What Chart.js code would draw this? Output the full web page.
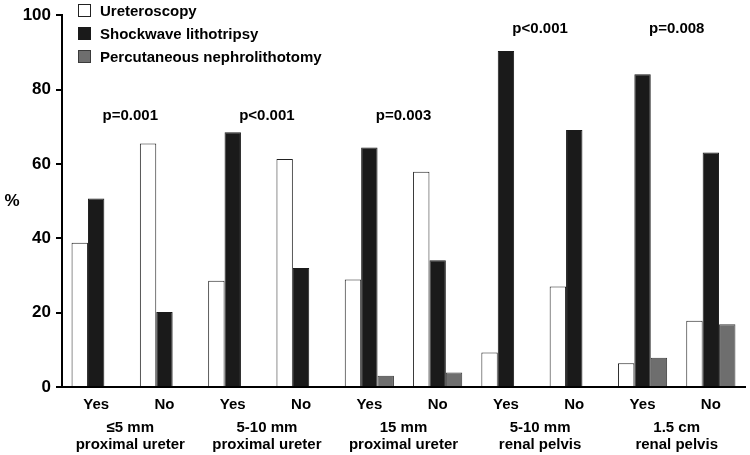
<!DOCTYPE html>
<html>
<head>
<meta charset="utf-8">
<script src="https://cdn.jsdelivr.net/npm/chart.js@4"></script>
<style>
html,body{margin:0;padding:0;background:#fff;}
#wrap{width:750px;height:455px;}
</style>
</head>
<body>
<div id="wrap"><canvas id="c" width="750" height="455"></canvas></div>
<script>
const categories = ["Yes","No","Yes","No","Yes","No","Yes","No","Yes","No"];
const groupLabels = [["\u22645 mm","proximal ureter"],["5-10 mm","proximal ureter"],["15 mm","proximal ureter"],["5-10 mm","renal pelvis"],["1.5 cm","renal pelvis"]];
const seriesNames = ["Ureteroscopy","Shockwave lithotripsy","Percutaneous nephrolithotomy"];
const ureteroscopy = [38.8,65.5,28.6,61.3,28.9,57.9,9.3,27.0,6.4,17.8];
const shockwave = [50.7,20.2,68.5,32.0,64.4,34.1,90.4,69.1,84.1,63.1];
const pcnl = [null,null,null,null,3.0,3.9,null,null,7.9,16.9];
const pValues = ["p=0.001","p<0.001","p=0.003","p<0.001","p=0.008"];
const pValueY = [73,73,73,96.4,96.4];
const yTicks = [0,20,40,60,80,100];

const FONT = '"Liberation Sans", Arial, Helvetica, sans-serif';

const overlay = {
  id:'overlay',
  afterDraw(chart){
    const ctx = chart.ctx;
    const xs = chart.scales.x, ys = chart.scales.y;
    ctx.save();
    ctx.font = 'bold 15px ' + FONT;
    ctx.fillStyle = '#000';
    // p-values
    ctx.textAlign = 'center';
    ctx.textBaseline = 'middle';
    pValues.forEach((p,i)=>{
      const x = (xs.getPixelForValue(2*i) + xs.getPixelForValue(2*i+1))/2;
      ctx.fillText(p, x, ys.getPixelForValue(pValueY[i]));
    });
    // % label
    ctx.font = 'bold 17px ' + FONT;
    ctx.fillText('%', 12, 201);
    ctx.font = 'bold 15px ' + FONT;
    // legend
    ctx.textAlign = 'left';
    chart.data.datasets.forEach((ds,i)=>{
      const y = 4 + 23*i;
      ctx.fillStyle = ds.backgroundColor;
      ctx.fillRect(78.5, y+0.5, 12, 12);
      ctx.lineWidth = 1;
      ctx.strokeStyle = ds.borderColor;
      ctx.strokeRect(78.5, y+0.5, 12, 12);
      ctx.fillStyle = '#000';
      ctx.fillText(ds.label, 100, y+7.5);
    });
    ctx.restore();
  }
};

new Chart(document.getElementById('c'), {
  type:'bar',
  data:{
    labels: categories,
    datasets:[
      {label:seriesNames[0], data:ureteroscopy, backgroundColor:'#ffffff', borderColor:'#222', borderWidth:1},
      {label:seriesNames[1], data:shockwave, backgroundColor:'#1a1a1a', borderColor:'#1a1a1a', borderWidth:1},
      {label:seriesNames[2], data:pcnl, backgroundColor:'#6e6e6e', borderColor:'#3a3a3a', borderWidth:1}
    ]
  },
  options:{
    responsive:false,
    animation:false,
    layout:{padding:{top:15,right:5,left:0,bottom:0}},
    plugins:{legend:{display:false}, tooltip:{enabled:false}},
    datasets:{bar:{categoryPercentage:0.72, barPercentage:1.0}},
    scales:{
      x:{
        type:'category',
        grid:{display:false, drawTicks:false},
        border:{display:true, color:'#000', width:2},
        ticks:{color:'#000', font:{family:FONT, size:15, weight:'bold'}, padding:9, autoSkip:false, maxRotation:0},
        afterFit(s){ s.height = 28; }
      },
      x2:{
        type:'category',
        labels: groupLabels,
        position:'bottom',
        offset:true,
        weight:1,
        grid:{display:false, drawTicks:false},
        border:{display:false},
        ticks:{color:'#000', font:{family:FONT, size:15, weight:'bold', lineHeight:1.15}, padding:4, autoSkip:false, maxRotation:0},
        afterFit(s){ s.height = 40; }
      },
      y:{
        min:0, max:100,
        afterBuildTicks(s){ s.ticks = yTicks.map(v=>({value:v})); },
        grid:{drawOnChartArea:false, drawTicks:true, tickLength:6, lineWidth:2, color:'#000'},
        border:{display:true, color:'#000', width:2},
        ticks:{color:'#000', font:{family:FONT, size:17, weight:'bold'}, padding:5},
        afterFit(s){ s.width = 62; }
      }
    }
  },
  plugins:[overlay]
});
</script>
</body>
</html>
